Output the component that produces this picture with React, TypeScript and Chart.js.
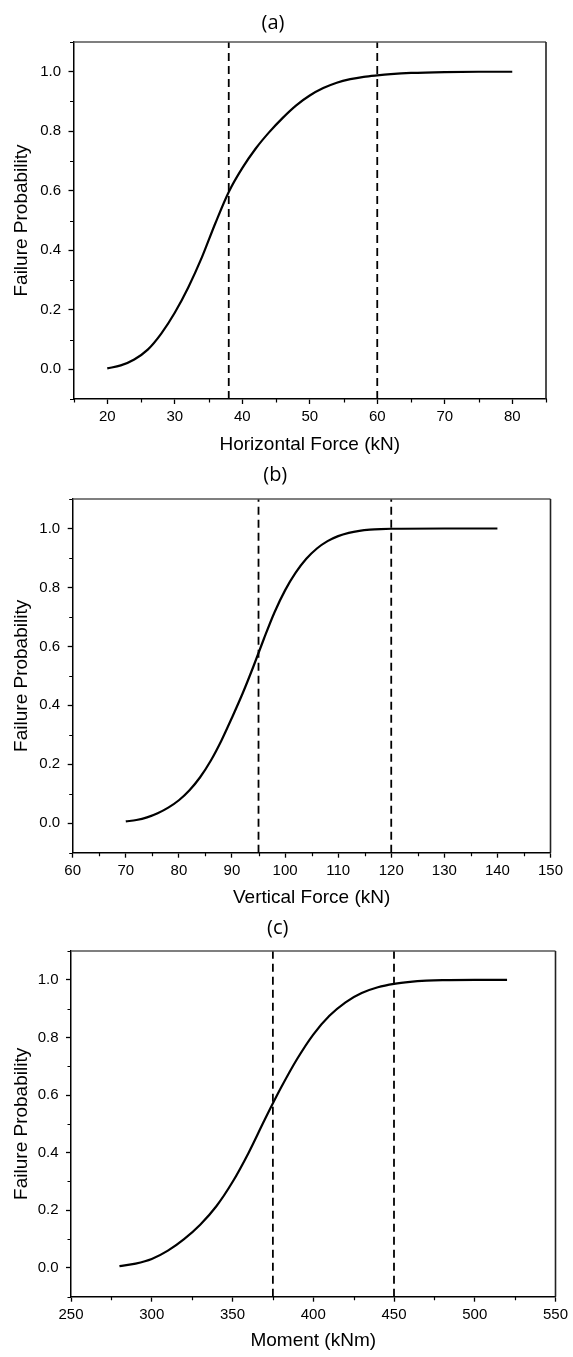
import React, { useEffect, useRef } from "react";
import { Chart, registerables } from "chart.js";

Chart.register(...registerables);

// ---- Data ----
// (a) Horizontal force
const hfX = [20, 22, 24, 26, 28, 30, 32, 34, 36, 38, 40, 42, 44, 46, 48, 50, 52, 54, 56, 58, 60, 62, 65, 70, 75, 80];
const hfP = [0.003, 0.013, 0.033, 0.066, 0.12, 0.19, 0.275, 0.375, 0.49, 0.596, 0.676, 0.742, 0.797, 0.845, 0.887, 0.92, 0.945, 0.963, 0.975, 0.983, 0.988, 0.992, 0.996, 0.999, 1.0, 1.0];
const hfLines = [38, 60];

// (b) Vertical force
const vfX = [70, 72, 74, 76, 78, 80, 82, 84, 86, 88, 90, 92, 94, 96, 98, 100, 102, 104, 106, 108, 110, 112, 114, 116, 118, 120, 130, 140];
const vfP = [0.006, 0.011, 0.02, 0.034, 0.053, 0.078, 0.112, 0.156, 0.212, 0.28, 0.358, 0.44, 0.53, 0.625, 0.715, 0.79, 0.85, 0.897, 0.932, 0.957, 0.974, 0.985, 0.992, 0.996, 0.998, 0.999, 1.0, 1.0];
const vfLines = [95, 120];

// (c) Moment
const mX = [280, 290, 300, 310, 320, 330, 340, 350, 360, 370, 380, 390, 400, 410, 420, 430, 440, 450, 460, 470, 480, 500, 520];
const mP = [0.006, 0.015, 0.031, 0.06, 0.1, 0.15, 0.214, 0.298, 0.4, 0.515, 0.625, 0.725, 0.81, 0.875, 0.922, 0.954, 0.974, 0.986, 0.993, 0.997, 0.999, 1.0, 1.0];
const mLines = [375, 450];

const panelTitles = ["(a)", "(b)", "(c)"];
const xTitles = ["Horizontal Force (kN)", "Vertical Force (kN)", "Moment (kNm)"];
const yTitle = "Failure Probability";
const yMin = -0.1;
const yMax = 1.1;

const FONT = '"Liberation Sans", Arial, sans-serif';
const TITLE_FONT = '"Open Sans", "Liberation Sans", sans-serif';

type PanelProps = {
  title: string;
  xTitle: string;
  xs: number[];
  ps: number[];
  lines: number[];
  xMin: number;
  xMax: number;
  xStep: number;
  xMajor: number;
  top: number;
  height: number;
  yAxisW: number;
  xAxisH: number;
  padRight: number;
  padBottom: number;
  tPadTop: number;
  tPadBottom: number;
};

function Panel(p: PanelProps) {
  const ref = useRef<HTMLCanvasElement>(null);
  useEffect(() => {
    const isXMajor = (v: number) => Math.abs(v % p.xMajor) < 1e-6;
    const isYMajor = (v: number) => {
      const k = Math.round(v * 10);
      return k % 2 === 0 && k >= 0 && k <= 10;
    };
    const framePlugin = {
      id: "frameMinor",
      afterDraw(chart: any) {
        const { ctx, chartArea } = chart;
        const xs = chart.scales.x;
        const ys = chart.scales.y;
        ctx.save();
        ctx.strokeStyle = "#000";
        ctx.lineWidth = 1.2;
        ctx.beginPath();
        xs.ticks.forEach((t: any) => {
          if (!isXMajor(t.value)) {
            const px = Math.round(xs.getPixelForValue(t.value)) + 0.5;
            ctx.moveTo(px, chartArea.bottom);
            ctx.lineTo(px, chartArea.bottom + 3.5);
          }
        });
        ys.ticks.forEach((t: any) => {
          if (!isYMajor(t.value)) {
            const py = Math.round(ys.getPixelForValue(t.value)) + 0.5;
            ctx.moveTo(chartArea.left, py);
            ctx.lineTo(chartArea.left - 3.5, py);
          }
        });
        ctx.stroke();
        ctx.strokeStyle = "#555";
        ctx.lineWidth = 1.4;
        ctx.beginPath();
        ctx.moveTo(chartArea.left, chartArea.top);
        ctx.lineTo(chartArea.right, chartArea.top);
        ctx.stroke();
        ctx.strokeStyle = "#222";
        ctx.lineWidth = 1.6;
        ctx.beginPath();
        ctx.moveTo(chartArea.right, chartArea.top);
        ctx.lineTo(chartArea.right, chartArea.bottom);
        ctx.stroke();
        ctx.restore();
      },
    };

    const chart = new Chart(ref.current!, {
      type: "line",
      data: {
        datasets: [
          {
            data: p.xs.map((x, i) => ({ x, y: p.ps[i] })),
            borderColor: "#000",
            borderWidth: 2.2,
            pointRadius: 0,
            cubicInterpolationMode: "monotone",
            fill: false,
          } as any,
          ...p.lines.map((v) => ({
            data: [
              { x: v, y: yMin },
              { x: v, y: yMax },
            ],
            borderColor: "#000",
            borderWidth: 1.8,
            borderDash: [8, 5],
            pointRadius: 0,
            fill: false,
          })),
        ],
      },
      options: {
        responsive: false,
        animation: false,
        devicePixelRatio: 1,
        layout: { padding: { left: 0, right: p.padRight, top: 0, bottom: p.padBottom } },
        plugins: {
          legend: { display: false },
          tooltip: { enabled: false },
          title: {
            display: true,
            text: p.title,
            color: "#000",
            font: { family: TITLE_FONT, size: 20, weight: "normal" as any, lineHeight: 1.2 },
            padding: { top: p.tPadTop, bottom: p.tPadBottom },
          },
        },
        scales: {
          x: {
            type: "linear",
            min: p.xMin,
            max: p.xMax,
            afterFit: (s: any) => {
              s.height = p.xAxisH;
            },
            ticks: {
              stepSize: p.xStep,
              autoSkip: false,
              maxRotation: 0,
              padding: 4,
              color: "#000",
              font: { family: FONT, size: 15 },
              callback: (v: any) => (isXMajor(Number(v)) ? String(v) : ""),
            },
            grid: {
              display: true,
              drawOnChartArea: false,
              drawTicks: true,
              tickLength: 5,
              tickWidth: 1.3,
              tickColor: (c: any) => (c.tick && isXMajor(c.tick.value) ? "#000" : "rgba(0,0,0,0)"),
            },
            border: { display: true, color: "#000", width: 1.5 },
            title: {
              display: true,
              text: p.xTitle,
              color: "#000",
              font: { family: FONT, size: 19, lineHeight: 1.2 },
              padding: { top: 0, bottom: 0 },
            },
          },
          y: {
            type: "linear",
            min: yMin,
            max: yMax,
            afterFit: (s: any) => {
              s.width = p.yAxisW;
            },
            ticks: {
              stepSize: 0.1,
              autoSkip: false,
              padding: 7.5,
              color: "#000",
              font: { family: FONT, size: 15 },
              callback: (v: any) => (isYMajor(Number(v)) ? (Math.round(Number(v) * 10) / 10).toFixed(1) : ""),
            },
            grid: {
              display: true,
              drawOnChartArea: false,
              drawTicks: true,
              tickLength: 5,
              tickWidth: 1.3,
              tickColor: (c: any) => (c.tick && isYMajor(c.tick.value) ? "#000" : "rgba(0,0,0,0)"),
            },
            border: { display: true, color: "#000", width: 1.5 },
            title: {
              display: true,
              text: yTitle,
              color: "#000",
              font: { family: FONT, size: 19, lineHeight: 1.2 },
              padding: { top: 10.6, bottom: 0 },
            },
          },
        },
      },
      plugins: [framePlugin],
    });
    return () => chart.destroy();
  }, []);
  return (
    <canvas
      ref={ref}
      width={573}
      height={p.height}
      style={{ position: "absolute", left: 0, top: p.top, width: 573, height: p.height }}
    />
  );
}

export default function App() {
  return (
    <div style={{ position: "absolute", left: 0, top: 0, width: 573, height: 1357, background: "#fff", overflow: "hidden" }}>
      <Panel
        title={panelTitles[0]}
        xTitle={xTitles[0]}
        xs={hfX}
        ps={hfP}
        lines={hfLines}
        xMin={15}
        xMax={85}
        xStep={5}
        xMajor={10}
        top={0}
        height={460}
        yAxisW={73.5}
        xAxisH={57.4}
        padRight={27}
        padBottom={3.6}
        tPadTop={11}
        tPadBottom={7}
      />
      <Panel
        title={panelTitles[1]}
        xTitle={xTitles[1]}
        xs={vfX}
        ps={vfP}
        lines={vfLines}
        xMin={60}
        xMax={150}
        xStep={5}
        xMajor={10}
        top={460}
        height={452}
        yAxisW={72.7}
        xAxisH={56.7}
        padRight={22.5}
        padBottom={2.6}
        tPadTop={3}
        tPadBottom={12}
      />
      <Panel
        title={panelTitles[2]}
        xTitle={xTitles[2]}
        xs={mX}
        ps={mP}
        lines={mLines}
        xMin={250}
        xMax={550}
        xStep={25}
        xMajor={50}
        top={912}
        height={445}
        yAxisW={71}
        xAxisH={55.7}
        padRight={17.5}
        padBottom={4.6}
        tPadTop={4}
        tPadBottom={11}
      />
    </div>
  );
}
